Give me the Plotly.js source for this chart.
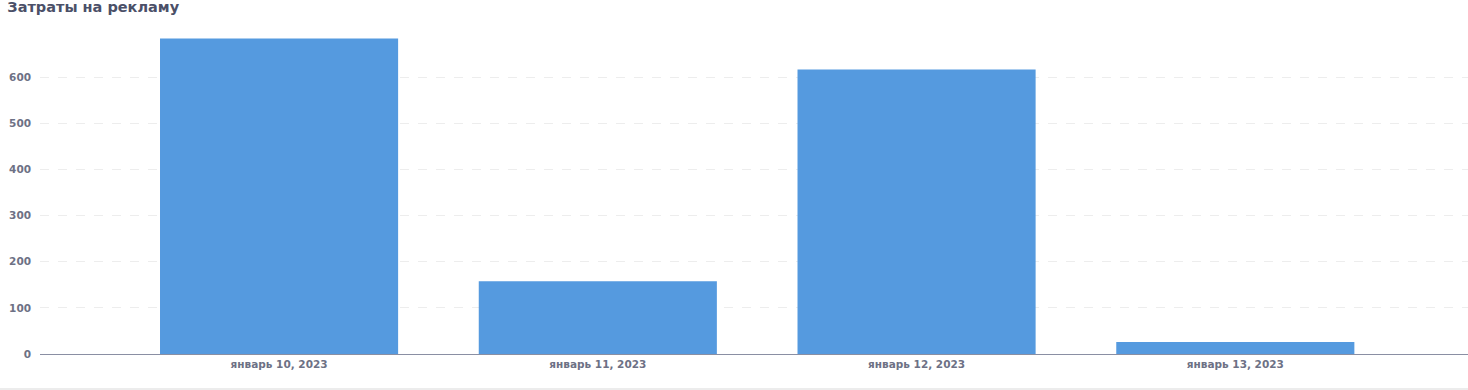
<!DOCTYPE html>
<html>
<head>
<meta charset="utf-8">
<script src="https://cdn.plot.ly/plotly-3.0.1.min.js"></script>
<style>
  html, body { margin: 0; padding: 0; background: #fff; }
  #chart { width: 1468px; height: 388px; border-bottom: 2px solid #ececec; }
</style>
</head>
<body>
<div id="chart"></div>
<script>
const categories = ["январь 10, 2023", "январь 11, 2023", "январь 12, 2023", "январь 13, 2023"];
const spend = [684, 158, 617, 26];
const yTicks = [0, 100, 200, 300, 400, 500, 600];
const chartTitle = "Затраты на рекламу";

const fontFam = "'DejaVu Sans', sans-serif";

const trace = {
  type: "bar",
  x: categories,
  y: spend,
  marker: { color: "#559ADF", line: { width: 0 } },
  hoverinfo: "x+y"
};

const layout = {
  width: 1468,
  height: 388,
  margin: { l: 40, r: 0, t: 22, b: 34 },
  paper_bgcolor: "#ffffff",
  plot_bgcolor: "#ffffff",
  bargap: 0.253,
  showlegend: false,
  font: { family: fontFam, color: "#6d7185" },
  title: {
    text: "<b>" + chartTitle + "</b>",
    x: 0.005, xanchor: "left", xref: "container",
    y: 0.995, yanchor: "top", yref: "container",
    font: { size: 14.5, color: "#4b5068", family: fontFam }
  },
  xaxis: {
    type: "category",
    range: [-0.75, 3.73],
    showgrid: false,
    zeroline: false,
    showline: true,
    linecolor: "#8a8fa3",
    linewidth: 1,
    ticks: "",
    tickfont: { size: 10.5, color: "#6d7185", family: fontFam, weight: "bold" },
    fixedrange: true
  },
  yaxis: {
    range: [0, 720],
    tickvals: yTicks,
    ticktext: yTicks.map(String),
    showgrid: true,
    gridcolor: "#ededed",
    griddash: "dash",
    gridwidth: 1,
    zeroline: false,
    showline: false,
    ticks: "",
    ticklabelstandoff: 8,
    tickfont: { size: 10.5, color: "#6d7185", family: fontFam, weight: "bold" },
    fixedrange: true
  },
  shapes: [{
    type: "line", xref: "paper", yref: "y", ysizemode: "pixel", yanchor: 0,
    x0: 0, x1: 0, y0: 0, y1: -5,
    line: { color: "#8a8fa3", width: 1 }
  }]
};

Plotly.newPlot("chart", [trace], layout, { displayModeBar: false });
</script>
</body>
</html>
